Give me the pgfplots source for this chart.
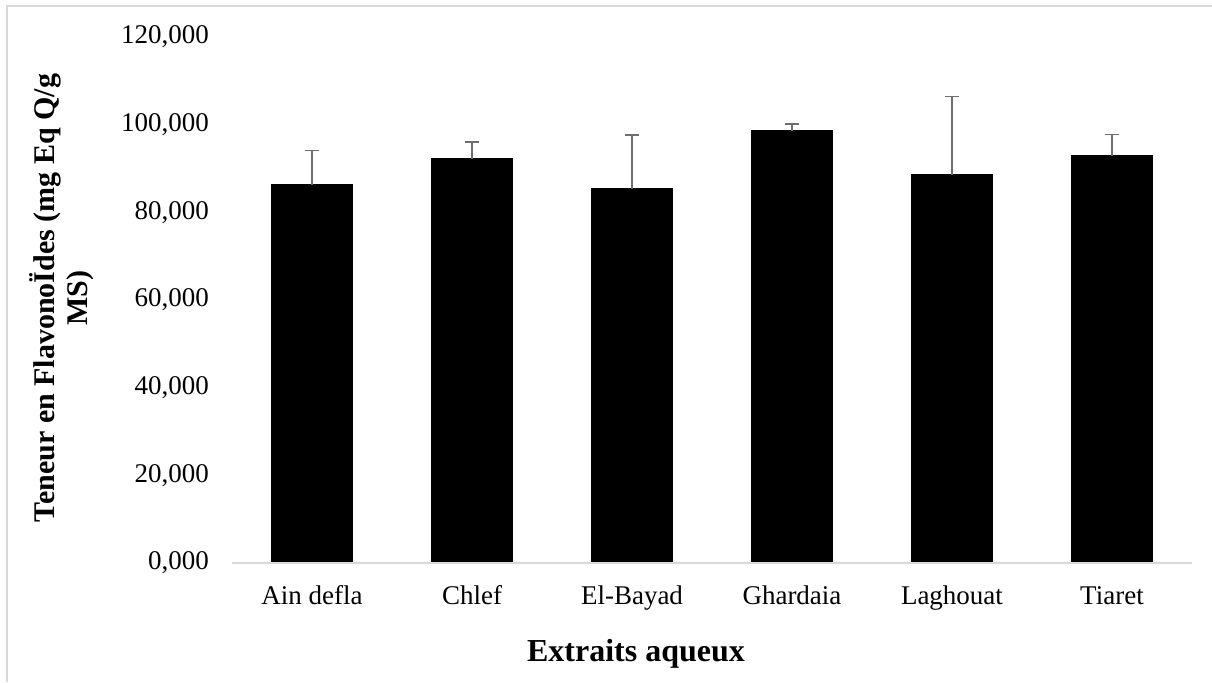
\documentclass[border=0pt]{standalone}
\usepackage{pgfplots}
\pgfplotsset{compat=1.18}
\usepackage{fontspec}
\setmainfont{Liberation Serif}
\definecolor{axgray}{RGB}{217,217,217}
\definecolor{errgray}{RGB}{110,110,110}
\begin{document}
\begin{tikzpicture}
\useasboundingbox (0,0) rectangle (606pt,341pt);
\draw[axgray, line width=0.8pt] (3.6pt,0) -- (3.6pt,338pt) -- (606pt,338pt);
\begin{axis}[
  at={(116pt,59.5pt)}, anchor=south west,
  width=480pt, height=263pt, scale only axis,
  xmin=-0.5, xmax=5.5, ymin=0, ymax=120,
  axis line style={draw=none},
  major tick length=0pt,
  ytick={0,20,40,60,80,100,120},
  yticklabels={{0,000},{20,000},{40,000},{60,000},{80,000},{100,000},{120,000}},
  xtick={0,1,2,3,4,5},
  xticklabels={Ain defla, Chlef, El-Bayad, Ghardaia, Laghouat, Tiaret},
  tick label style={font=\fontsize{13.5}{15}\selectfont},
  yticklabel style={xshift=-8pt},
  xticklabel style={yshift=-10pt, text height=1.6ex, text depth=0.4ex},
  /pgf/number format/assume math mode=true,
  clip=false,
]
\addplot[ybar, bar width=40.5pt, fill=black, draw=black,
  error bars/.cd, y dir=plus, y explicit,
  error bar style={errgray, line width=0.75pt},
  error mark options={errgray, line width=0.75pt, mark size=3.5pt, rotate=90}]
  coordinates {
  (0,86.3) +- (0,7.8)
  (1,92.2) +- (0,3.9)
  (2,85.4) +- (0,12.2)
  (3,98.6) +- (0,1.6)
  (4,88.6) +- (0,17.8)
  (5,92.9) +- (0,4.9)
  };
\draw[axgray, line width=0.8pt] (axis cs:-0.5,0) -- (axis cs:5.5,0);
\end{axis}
\node[rotate=90, align=center, font=\bfseries\fontsize{15}{16.5}\selectfont] at (31pt,192pt) {Teneur en FlavonoÏdes (mg Eq Q/g\\MS)};
\node[font=\bfseries\fontsize{16}{18}\selectfont] at (318pt,14pt) {Extraits aqueux};
\end{tikzpicture}
\end{document}
